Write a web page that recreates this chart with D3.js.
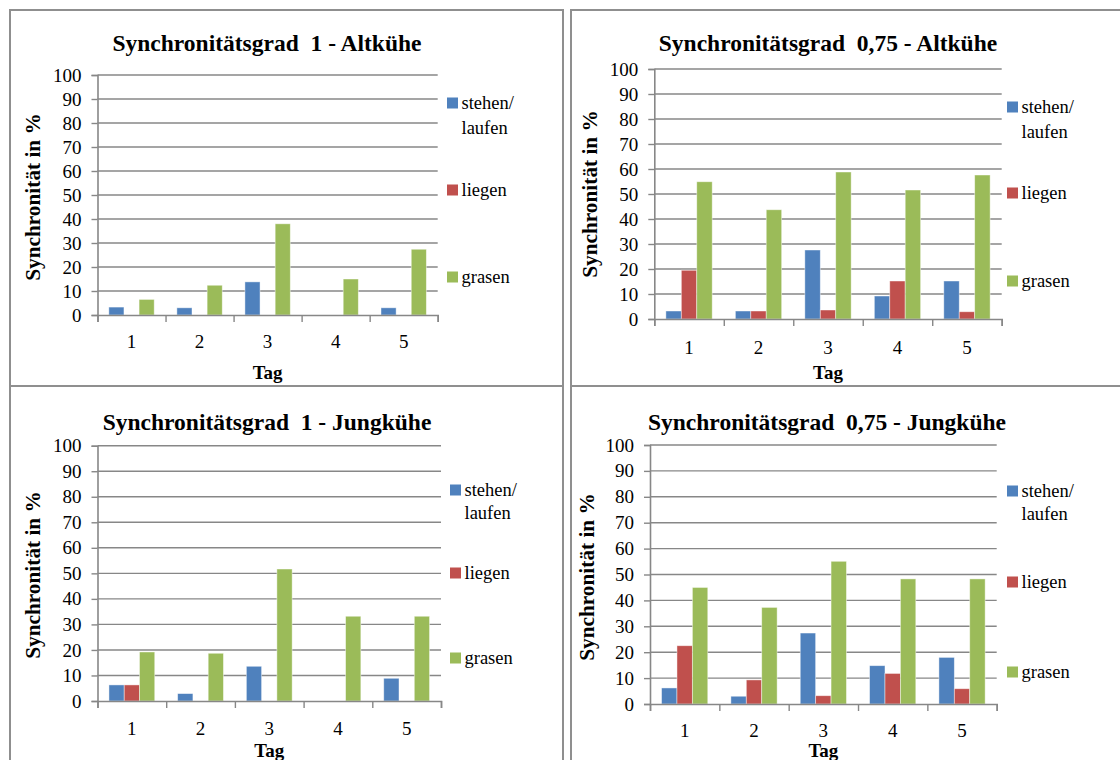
<!DOCTYPE html>
<html>
<head>
<meta charset="utf-8">
<script src="https://cdn.jsdelivr.net/npm/d3@7"></script>
<style>
  html, body { margin: 0; padding: 0; background: #fff; }
  svg { display: block; }
  svg text { font-family: "Liberation Serif", "Times New Roman", serif; fill: #000; }
</style>
</head>
<body>
<svg id="chart" width="1120" height="760"></svg>
<script>
// Days on the x axis and behaviour series
const days = ["1", "2", "3", "4", "5"];
const seriesNames = ["stehen/laufen", "liegen", "grasen"];
const legendLines = [["stehen/", "laufen"], ["liegen"], ["grasen"]];
const yTicks = [0, 10, 20, 30, 40, 50, 60, 70, 80, 90, 100];
const panelTitles = [
  "Synchronitätsgrad  1 - Altkühe",
  "Synchronitätsgrad  0,75 - Altkühe",
  "Synchronitätsgrad  1 - Jungkühe",
  "Synchronitätsgrad  0,75 - Jungkühe"
];
const yAxisTitle = "Synchronität in %";
const xAxisTitle = "Tag";

// Synchronity in % per day: [stehen/laufen, liegen, grasen]
const alt1Stehen = [3.3, 3.0, 13.8, 0, 3.0];
const alt1Liegen = [0, 0, 0, 0, 0];
const alt1Grasen = [6.5, 12.4, 38.0, 15.0, 27.4];

const alt075Stehen = [3.2, 3.2, 27.6, 9.2, 15.2];
const alt075Liegen = [19.5, 3.2, 3.6, 15.2, 2.9];
const alt075Grasen = [54.9, 43.7, 58.8, 51.6, 57.6];

const jung1Stehen = [6.3, 2.9, 13.6, 0, 8.9];
const jung1Liegen = [6.3, 0, 0, 0, 0];
const jung1Grasen = [19.2, 18.7, 51.7, 33.2, 33.2];

const jung075Stehen = [6.2, 3.0, 27.4, 14.8, 18.0];
const jung075Liegen = [22.5, 9.3, 3.2, 11.8, 5.9];
const jung075Grasen = [45.0, 37.3, 55.1, 48.3, 48.3];

const colors = ["#4F81BD", "#C0504D", "#9BBB59"];

const svg = d3.select("#chart");
const serif = '"Liberation Serif", "Times New Roman", serif';

// Panel frames
const frameColor = "#8f8f8f";
const frames = [
  { x: 10, y: 10, w: 553, h: 376 },
  { x: 571, y: 10, w: 560, h: 376 },
  { x: 10, y: 386, w: 553, h: 390 },
  { x: 571, y: 386, w: 560, h: 390 }
];
frames.forEach(f => {
  svg.append("rect")
    .attr("x", f.x).attr("y", f.y).attr("width", f.w).attr("height", f.h)
    .attr("fill", "none").attr("stroke", frameColor).attr("stroke-width", 2);
});

// Layout for each panel
const layouts = [
  { left: 97.5, right: 437.7, top: 75, bottom: 315, titleX: 267, titleY: 43,
    tickY: 341, tagY: 372, yTitleX: 33, yTitleY: 197,
    legX: 447, legY: [103, 128, 190, 277] },
  { left: 654.3, right: 1001.7, top: 69, bottom: 319, titleX: 828, titleY: 43,
    tickY: 347, tagY: 372, yTitleX: 590, yTitleY: 194,
    legX: 1007, legY: [107, 132, 193, 281] },
  { left: 97.5, right: 441, top: 445.7, bottom: 701, titleX: 267, titleY: 422,
    tickY: 728, tagY: 750, yTitleX: 33, yTitleY: 575,
    legX: 450, legY: [490, 513, 573, 658] },
  { left: 650, right: 996.7, top: 445, bottom: 704, titleX: 827, titleY: 422,
    tickY: 730, tagY: 750, yTitleX: 587, yTitleY: 577,
    legX: 1007, legY: [491, 514, 582, 672] }
];

const panelData = [
  [alt1Stehen, alt1Liegen, alt1Grasen],
  [alt075Stehen, alt075Liegen, alt075Grasen],
  [jung1Stehen, jung1Liegen, jung1Grasen],
  [jung075Stehen, jung075Liegen, jung075Grasen]
];

const gridColor = "#878787";

layouts.forEach((L, p) => {
  const g = svg.append("g");
  const series = panelData[p];

  const y = d3.scaleLinear().domain([0, 100]).range([L.bottom, L.top]);
  const x0 = d3.scaleBand().domain(days).range([L.left, L.right]).paddingInner(0).paddingOuter(0);
  const bw = x0.bandwidth() / 4.5; // gap width 150 %
  const x1 = d3.scaleBand().domain(seriesNames).range([0.75 * bw, 3.75 * bw]).padding(0);
  const xEdge = d3.scaleLinear().domain([0, days.length]).range([L.left, L.right]);

  // Horizontal gridlines
  g.append("g").selectAll("line").data(yTicks.filter(t => t > 0)).join("line")
    .attr("x1", L.left).attr("x2", L.right)
    .attr("y1", d => y(d)).attr("y2", d => y(d))
    .attr("stroke", gridColor).attr("stroke-width", 1.4);

  // Y axis
  const yAxis = g.append("g")
    .attr("transform", `translate(${L.left},0)`)
    .call(d3.axisLeft(y).tickValues(yTicks).tickSize(6).tickPadding(10));
  yAxis.attr("font-family", null).attr("font-size", null);
  yAxis.select(".domain").attr("stroke", gridColor).attr("stroke-width", 1.6);
  yAxis.selectAll(".tick line").attr("stroke", gridColor).attr("stroke-width", 1.4);
  yAxis.selectAll(".tick text")
    .style("font-family", serif).style("font-size", "19px").attr("fill", "#000");

  // Bars
  days.forEach((day, i) => {
    seriesNames.forEach((s, k) => {
      const v = series[k][i];
      if (v <= 0) return;
      g.append("rect")
        .attr("x", x0(day) + x1(s))
        .attr("y", y(v))
        .attr("width", x1.bandwidth())
        .attr("height", y(0) - y(v))
        .attr("fill", colors[k])
        .attr("stroke", "#ffffff").attr("stroke-opacity", 0.55).attr("stroke-width", 0.8);
    });
  });

  // X axis: tick marks at category edges, labels at centres
  const xTicks = g.append("g")
    .attr("transform", `translate(0,${L.bottom})`)
    .call(d3.axisBottom(xEdge).tickValues(d3.range(days.length + 1)).tickSize(7).tickFormat(""));
  xTicks.select(".domain").attr("stroke", gridColor).attr("stroke-width", 1.6);
  xTicks.selectAll(".tick line").attr("stroke", gridColor).attr("stroke-width", 1.4);

  const xLabels = g.append("g")
    .attr("transform", `translate(0,${L.tickY})`)
    .call(d3.axisBottom(x0).tickSize(0).tickPadding(0));
  xLabels.attr("font-family", null).attr("font-size", null);
  xLabels.select(".domain").remove();
  xLabels.selectAll(".tick text")
    .attr("dy", "0.35em").attr("y", 0)
    .style("font-family", serif).style("font-size", "19px").attr("fill", "#000");

  // Panel title
  g.append("text")
    .attr("x", L.titleX).attr("y", L.titleY).attr("dy", "0.35em")
    .attr("text-anchor", "middle")
    .style("font-family", serif).style("font-weight", "bold").style("font-size", "23.5px")
    .style("white-space", "pre")
    .text(panelTitles[p]);

  // Axis titles
  g.append("text")
    .attr("x", (L.left + L.right) / 2).attr("y", L.tagY).attr("dy", "0.35em")
    .attr("text-anchor", "middle")
    .style("font-family", serif).style("font-weight", "bold").style("font-size", "19px")
    .text(xAxisTitle);

  g.append("text")
    .attr("transform", `translate(${L.yTitleX},${L.yTitleY}) rotate(-90)`)
    .attr("dy", "0.35em")
    .attr("text-anchor", "middle")
    .style("font-family", serif).style("font-weight", "bold").style("font-size", "21.3px")
    .text(yAxisTitle);

  // Legend
  const legRows = [
    { k: 0, lines: legendLines[0], ys: [L.legY[0], L.legY[1]] },
    { k: 1, lines: legendLines[1], ys: [L.legY[2]] },
    { k: 2, lines: legendLines[2], ys: [L.legY[3]] }
  ];
  legRows.forEach(r => {
    g.append("rect")
      .attr("x", L.legX).attr("y", r.ys[0] - 5.5)
      .attr("width", 11).attr("height", 11)
      .attr("fill", colors[r.k]);
    r.lines.forEach((t, j) => {
      g.append("text")
        .attr("x", L.legX + 14.5).attr("y", r.ys[j]).attr("dy", "0.35em")
        .style("font-family", serif).style("font-size", "18.5px")
        .text(t);
    });
  });
});
</script>
</body>
</html>
